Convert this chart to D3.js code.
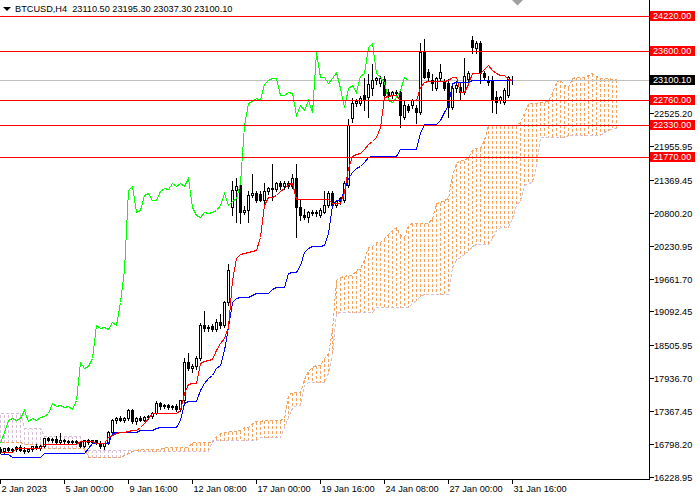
<!DOCTYPE html>
<html><head><meta charset="utf-8">
<script src="https://cdn.jsdelivr.net/npm/d3@7"></script>
<style>html,body{margin:0;padding:0;background:#fff;overflow:hidden}svg{display:block}text{font-family:"Liberation Sans",Arial,sans-serif;font-size:9.2px}</style>
</head><body><svg id="c" width="700" height="500"></svg>
<script>
const symbolTitle = "BTCUSD,H4  23110.50 23195.30 23037.30 23100.10";
const opens = [16709,16674,16726,16691,16709,16744,16691,16674,16709,16761,
16726,16761,16899,16865,16882,16830,16865,16848,16830,16848,
16830,16761,16865,16830,16865,16813,16761,16813,17003,17211,
17246,17211,17246,17384,17194,17246,17211,17263,17280,17333,
17506,17454,17471,17437,17454,17402,17558,18216,18112,18147,
18285,18857,18805,18840,18788,18909,18857,19256,20901,21196,
21283,20815,20849,21109,21144,21127,21023,21179,21231,21213,
21318,21265,21318,21265,21404,20901,20763,20728,20815,20797,
20763,20815,20936,21144,20936,21005,21023,21283,22443,22703,
22703,22842,22807,22963,23102,23050,23119,22894,22842,22894,
22894,22461,22651,22669,22617,22547,23587,23240,23102,22963,
23136,23067,23050,22634,22963,22980,22894,23119,23795,23656,
23743,23223,23102,23102,22807,22755,22721,22842,23110.5];
const highs = [16761,16744,16761,16744,16778,16796,16761,16744,16778,16813,
16796,16917,16934,16917,16951,17003,16899,16882,16882,16882,
16865,16882,16899,16882,16882,16865,16830,17038,17246,17280,
17298,17280,17419,17419,17280,17298,17298,17315,17367,17558,
17540,17506,17506,17489,17506,17575,18303,18389,18199,18337,
18909,19117,18874,18892,18978,19065,19290,19931,21369,21421,
21318,20936,21196,21491,21196,21196,21335,21265,21664,21352,
21369,21369,21369,21491,21664,21057,20884,20849,20867,20867,
20901,21196,21196,21196,21040,21092,21369,22443,22807,22790,
22842,23154,23223,23396,23171,23188,23188,22963,22928,22946,
22946,22755,22703,22790,22686,23760,23829,23309,23223,23171,
23396,23136,23136,23015,23102,23067,23500,23275,23881,23795,
23795,23275,23188,23188,22928,22842,22980,23188,23195.3];
const lows = [16640,16640,16657,16657,16674,16674,16640,16657,16674,16709,
16691,16744,16848,16830,16813,16796,16813,16813,16796,16813,
16744,16744,16796,16813,16796,16726,16709,16796,16986,17159,
17194,17177,17211,17159,17142,17194,17194,17228,17246,17315,
17402,17419,17402,17402,17367,17367,17523,18077,18043,18095,
18251,18753,18753,18753,18753,18805,18822,19203,20763,20641,
20624,20780,20641,21075,20988,21005,20971,21127,21023,21179,
21213,21213,21231,21231,20381,20676,20693,20641,20763,20745,
20728,20797,20901,20919,20901,20953,20988,21248,22374,22651,
22669,22582,22461,22842,23032,22998,22807,22807,22790,22842,
22287,22426,22547,22617,22357,22513,23136,23102,22928,22928,
23102,22928,22461,22599,22894,22755,22859,23050,23570,23570,
23050,23102,23015,22547,22530,22703,22686,22807,23037.3];
const closes = [16674,16726,16691,16709,16744,16691,16674,16709,16761,16726,
16761,16899,16865,16882,16830,16865,16848,16830,16848,16830,
16761,16865,16830,16865,16813,16761,16813,17003,17211,17246,
17211,17246,17384,17194,17246,17211,17263,17280,17333,17506,
17454,17471,17437,17454,17402,17558,18216,18112,18147,18285,
18857,18805,18822,18788,18909,18857,19256,19810,21196,21265,
20815,20849,21109,21144,21023,21023,21179,21231,21213,21318,
21265,21318,21265,21404,20901,20763,20728,20815,20797,20815,
20849,20936,21144,20936,21005,21057,21318,22322,22703,22738,
22790,22755,23032,23102,23136,23136,22842,22842,22894,22876,
22495,22669,22582,22755,22547,23587,23154,23154,23050,23136,
23240,22963,22634,22963,23015,22894,23171,23223,23673,23743,
23223,23154,23067,22755,22721,22807,22928,23154,23100.1];
const tenkan = [16657,16657,16657,16657,16726,16726,16726,16726,16726,16726,
16726,16796,16796,16796,16796,16796,16796,16796,16796,16796,
16848,16848,16848,16848,16813,16813,16813,16917,16951,16986,
17003,17003,17021,17038,17038,17090,17159,17246,17333,17333,
17333,17333,17333,17333,17333,17384,17679,17835,17852,17852,
18199,18233,18251,18268,18424,18545,18632,18822,19637,20018,
20087,20105,20122,20139,20156,20381,20936,21075,21075,21109,
21179,21231,21300,21318,21040,21040,21040,21040,21040,21040,
21040,21040,21040,20971,20971,20971,21161,21577,21785,21820,
21837,21906,21993,22045,22114,22287,22807,22825,22842,22842,
22755,22755,22755,22755,22755,22980,23067,23084,23084,23084,
23084,23084,23102,23154,23154,22894,22894,23032,23223,23223,
23223,23292,23362,23275,23223,23188,23188,23119,23102];
const kijun = [16622,16622,16622,16570,16570,16570,16570,16570,16570,16570,
16570,16640,16640,16640,16640,16640,16640,16640,16640,16640,
16640,16640,16726,16813,16813,16813,16813,16813,16986,17003,
17003,17003,17003,17003,17003,17038,17038,17038,17038,17073,
17090,17090,17090,17090,17090,17211,17506,17540,17540,17540,
17731,17852,17939,17991,18112,18164,18424,18822,19256,19325,
19342,19342,19342,19377,19411,19411,19411,19411,19481,19515,
19515,19515,19758,19775,19775,19896,20122,20191,20226,20226,
20226,20243,20451,20936,21023,21023,21196,21404,21508,21577,
21612,21681,21768,21785,21785,21785,21785,21785,21785,21785,
21906,21906,21906,21906,21906,22183,22339,22339,22339,22339,
22409,22547,22669,23050,23067,23067,23067,23067,23102,23102,
23102,23102,23102,23102,23102,23102,23102,23102,23102];
const spanA = [16830,16830,16830,16830,16830,16830,16796,16796,16796,16796,
16796,16726,16726,16726,16726,16726,16726,16726,16726,16726,
16726,16726,16570,16570,16570,16570,16570,16570,16570,16570,
16570,16605,16640,16674,16691,16709,16709,16709,16709,16709,
16709,16744,16744,16744,16744,16744,16744,16744,16830,16830,
16830,16830,16830,16830,16934,16986,17003,17021,17021,17021,
17038,17090,17090,17159,17194,17194,17211,17211,17211,17211,
17211,17246,17644,17696,17696,17696,17921,18060,18129,18164,
18164,18285,18372,18770,19637,19689,19706,19723,19723,19810,
19844,19983,20208,20226,20295,20295,20364,20434,20503,20555,
20416,20381,20590,20624,20624,20624,20624,20624,20711,20971,
20988,21023,21057,21456,21664,21716,21716,21768,21889,21924,
21924,22062,22322,22322,22322,22322,22322,22322,22322,22322,
22374,22530,22703,22703,22703,22721,22721,22755,22876,23067,
23119,23015,22980,23136,23154,23154,23154,23188,23223,23171,
23136,23136,23136,23119,23119];
const spanB = [17333,17333,17333,17333,17333,17333,17073,17073,17073,17073,
17073,16934,16934,16934,16934,16934,16934,16934,16934,16934,
16934,16691,16691,16691,16691,16691,16691,16691,16691,16691,
16691,16691,16691,16691,16691,16674,16674,16674,16674,16674,
16674,16674,16674,16674,16674,16674,16674,16674,16674,16674,
16674,16674,16674,16865,16865,16865,16865,16865,16865,16865,
16865,16865,16865,16865,16865,16917,16917,16917,16917,16917,
16917,17090,17263,17419,17471,17471,17818,17870,17870,17870,
17870,17870,18025,18337,19065,19082,19082,19082,19082,19082,
19082,19082,19082,19082,19169,19169,19169,19169,19169,19169,
19169,19169,19169,19238,19290,19359,19394,19394,19394,19394,
19394,19394,19394,19862,19983,20035,20087,20139,20226,20261,
20261,20261,20261,20364,20503,20555,20555,20555,20711,20936,
21023,21283,21318,21335,21629,22114,22114,22114,22114,22114,
22114,22114,22149,22149,22149,22149,22149,22149,22149,22149,
22149,22201,22235,22270,22270];
const chikouShift = 26;
const levels = [24220, 23600, 22760, 22330, 21770];
const bidPrice = 23100.10;
const yTickLabels = ["16228.95","16798.20","17367.45","17936.70","18505.95","19092.45","19661.70","20230.95","20800.20","21369.45","21955.95","22525.20"];
const xTickBars = [0,16,32,48,64,80,96,112,128];
const xTickLabels = ["2 Jan 2023","5 Jan 00:00","9 Jan 16:00","12 Jan 08:00","17 Jan 00:00","19 Jan 16:00","24 Jan 08:00","27 Jan 00:00","31 Jan 16:00"];

const svg = d3.select('#c');
const x = d3.scaleLinear().domain([0,1]).range([0.5,4.5]);
const y = d3.scaleLinear().domain([16228.95,24220]).range([476.7,15.5]);
const py = v => Math.round(y(v)) + 0.5;
const axisX = 649.5, axisY = 479.5;

const plot = svg.append('g').attr('shape-rendering','crispEdges');
// cloud columns
plot.append('g').selectAll('line').data(spanA.map((a,j)=>({a,b:spanB[j],j}))).join('line')
  .attr('x1',d=>x(d.j)).attr('x2',d=>x(d.j))
  .attr('y1',d=>py(d.a)).attr('y2',d=>py(d.b))
  .attr('stroke',d=>d.a>=d.b?'#F4A460':'#D8BFD8').attr('stroke-dasharray','3,2');
const ln = d3.line().x((d,i)=>x(i)).y(d=>py(d));
plot.append('path').attr('d',ln(spanB)).attr('fill','none').attr('stroke','#D8BFD8').attr('stroke-dasharray','3,2');
plot.append('path').attr('d',ln(spanA)).attr('fill','none').attr('stroke','#F4A460').attr('stroke-dasharray','3,2');

// bid line
plot.append('line').attr('x1',0).attr('x2',axisX).attr('y1',py(bidPrice)).attr('y2',py(bidPrice)).attr('stroke','#C0C0C0');

// candles
const cg = plot.append('g');
const bars = opens.map((o,i)=>({i,o,h:highs[i],l:lows[i],c:closes[i]}));
cg.selectAll('line').data(bars).join('line')
  .attr('x1',d=>x(d.i)).attr('x2',d=>x(d.i)).attr('y1',d=>py(d.h)).attr('y2',d=>py(d.l)).attr('stroke','#000');
cg.selectAll('rect').data(bars).join('rect')
  .attr('x',d=>x(d.i)-1).attr('width',2)
  .attr('y',d=>py(Math.max(d.o,d.c)))
  .attr('height',d=>Math.max(0,py(Math.min(d.o,d.c))-py(Math.max(d.o,d.c))))
  .attr('fill',d=>d.c>=d.o?'#fff':'#000').attr('stroke','#000');

// indicator lines
const chikou = closes.slice(chikouShift);
plot.append('path').attr('d',ln(chikou)).attr('fill','none').attr('stroke','#00FF00');
plot.append('path').attr('d',ln(kijun)).attr('fill','none').attr('stroke','#0000FF');
plot.append('path').attr('d',ln(tenkan)).attr('fill','none').attr('stroke','#FF0000');

// horizontal levels
plot.append('g').selectAll('line').data(levels).join('line')
  .attr('x1',0).attr('x2',axisX).attr('y1',d=>py(d)).attr('y2',d=>py(d)).attr('stroke','#FF0000');

// axes
plot.append('line').attr('x1',axisX).attr('x2',axisX).attr('y1',0).attr('y2',axisY).attr('stroke','#000');
plot.append('line').attr('x1',0).attr('x2',axisX).attr('y1',axisY).attr('y2',axisY).attr('stroke','#000');

// y ticks
const yt = svg.append('g');
yTickLabels.forEach(s=>{
  const v = parseFloat(s), yy = py(v);
  yt.append('line').attr('x1',axisX).attr('x2',axisX+4).attr('y1',yy).attr('y2',yy).attr('stroke','#000').attr('shape-rendering','crispEdges');
  yt.append('text').attr('x',654).attr('y',yy+3.3).attr('fill','#000').text(s);
});
// x ticks
xTickBars.forEach((b,k)=>{
  const xx = Math.round(x(b)) + 0.5 - 1;
  svg.append('line').attr('x1',xx).attr('x2',xx).attr('y1',axisY).attr('y2',axisY+4).attr('stroke','#000').attr('shape-rendering','crispEdges');
  svg.append('text').attr('x',xx+1).attr('y',492).attr('fill','#000').text(xTickLabels[k]);
});
// level labels
function tag(v, txt, bg){
  const yy = Math.round(y(v));
  svg.append('rect').attr('x',650).attr('y',yy-5).attr('width',45).attr('height',10).attr('fill',bg).attr('shape-rendering','crispEdges');
  svg.append('text').attr('x',653).attr('y',yy+3.3).attr('fill','#fff').text(txt);
}
levels.forEach(v=>tag(v, v.toFixed(2), '#FF0000'));
tag(bidPrice, bidPrice.toFixed(2), '#000');

// title
svg.append('path').attr('d','M3,7 L11,7 L7,11 Z').attr('fill','#000');
svg.append('text').attr('x',15).attr('y',12).attr('fill','#000').text(symbolTitle).attr('xml:space','preserve').style('white-space','pre');
// chart shift marker
svg.append('path').attr('d','M512,0 L523,0 L517.5,5.5 Z').attr('fill','#A0A0A0');
</script></body></html>
